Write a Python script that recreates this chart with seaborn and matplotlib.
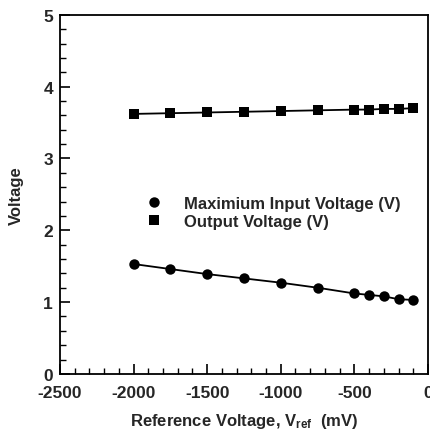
import pandas as pd
import matplotlib
matplotlib.use('Agg')
import matplotlib.pyplot as plt
from matplotlib.lines import Line2D
from matplotlib.ticker import MultipleLocator
import seaborn as sns

# Data
vref = [-2000, -1750, -1500, -1250, -1000, -750, -500, -400, -300, -200, -100]
max_input = [1.53, 1.46, 1.39, 1.33, 1.27, 1.20, 1.12, 1.10, 1.08, 1.04, 1.03]
output_v = [3.62, 3.63, 3.64, 3.65, 3.66, 3.67, 3.68, 3.68, 3.69, 3.69, 3.70]

label_max = 'Maximium Input Voltage (V)'
label_out = 'Output Voltage (V)'

df = pd.concat([
    pd.DataFrame({'vref': vref, 'volt': max_input, 'series': label_max}),
    pd.DataFrame({'vref': vref, 'volt': output_v, 'series': label_out}),
])

sns.set_style('white')
plt.rcParams['font.family'] = ['Liberation Sans', 'DejaVu Sans']
plt.rcParams['font.weight'] = 'bold'
plt.rcParams['mathtext.default'] = 'regular'
plt.rcParams['axes.unicode_minus'] = False

fig = plt.figure(figsize=(4.31, 4.39), dpi=100)
ax = fig.add_axes([0.139, 0.146, 0.854, 0.818])

sns.lineplot(data=df, x='vref', y='volt', hue='series', style='series',
             markers={label_max: 'o', label_out: 's'}, dashes=False,
             palette=['black', 'black'], markersize=7.5, markeredgewidth=0,
             linewidth=1.3, legend=False, ax=ax)

ax.set_xlim(-2500, 0)
ax.set_ylim(0, 5)
ax.xaxis.set_major_locator(MultipleLocator(500))
ax.xaxis.set_minor_locator(MultipleLocator(100))
ax.yaxis.set_major_locator(MultipleLocator(1))
ax.yaxis.set_minor_locator(MultipleLocator(0.2))
ax.tick_params(which='both', direction='in', bottom=True, left=True,
               top=False, right=False, color='black')
ax.tick_params(which='major', length=7, width=1.2, labelsize=12.5)
ax.tick_params(which='minor', length=4, width=1.0)
ax.tick_params(axis='x', which='major', pad=8)
ax.tick_params(axis='y', which='major', pad=5)
for lab in ax.get_xticklabels() + ax.get_yticklabels():
    lab.set_fontweight('bold')

for sp in ax.spines.values():
    sp.set_color('black')
    sp.set_linewidth(1.3)

ax.set_xlabel('Reference Voltage, V$_{ref}$  (mV)', fontsize=12, fontweight='bold', labelpad=8)
ax.set_ylabel('Voltage', fontsize=12, fontweight='bold', labelpad=14)

handles = [
    Line2D([], [], color='black', marker='o', linestyle='none', markersize=7.5, markeredgewidth=0),
    Line2D([], [], color='black', marker='s', linestyle='none', markersize=7, markeredgewidth=0),
]
ax.legend(handles, [label_max, label_out], loc='center left',
          bbox_to_anchor=(0.17, 0.45), frameon=False, handletextpad=0.8,
          labelspacing=0.2, prop={'size': 12, 'weight': 'bold'})

fig.savefig('out.png', dpi=100)
